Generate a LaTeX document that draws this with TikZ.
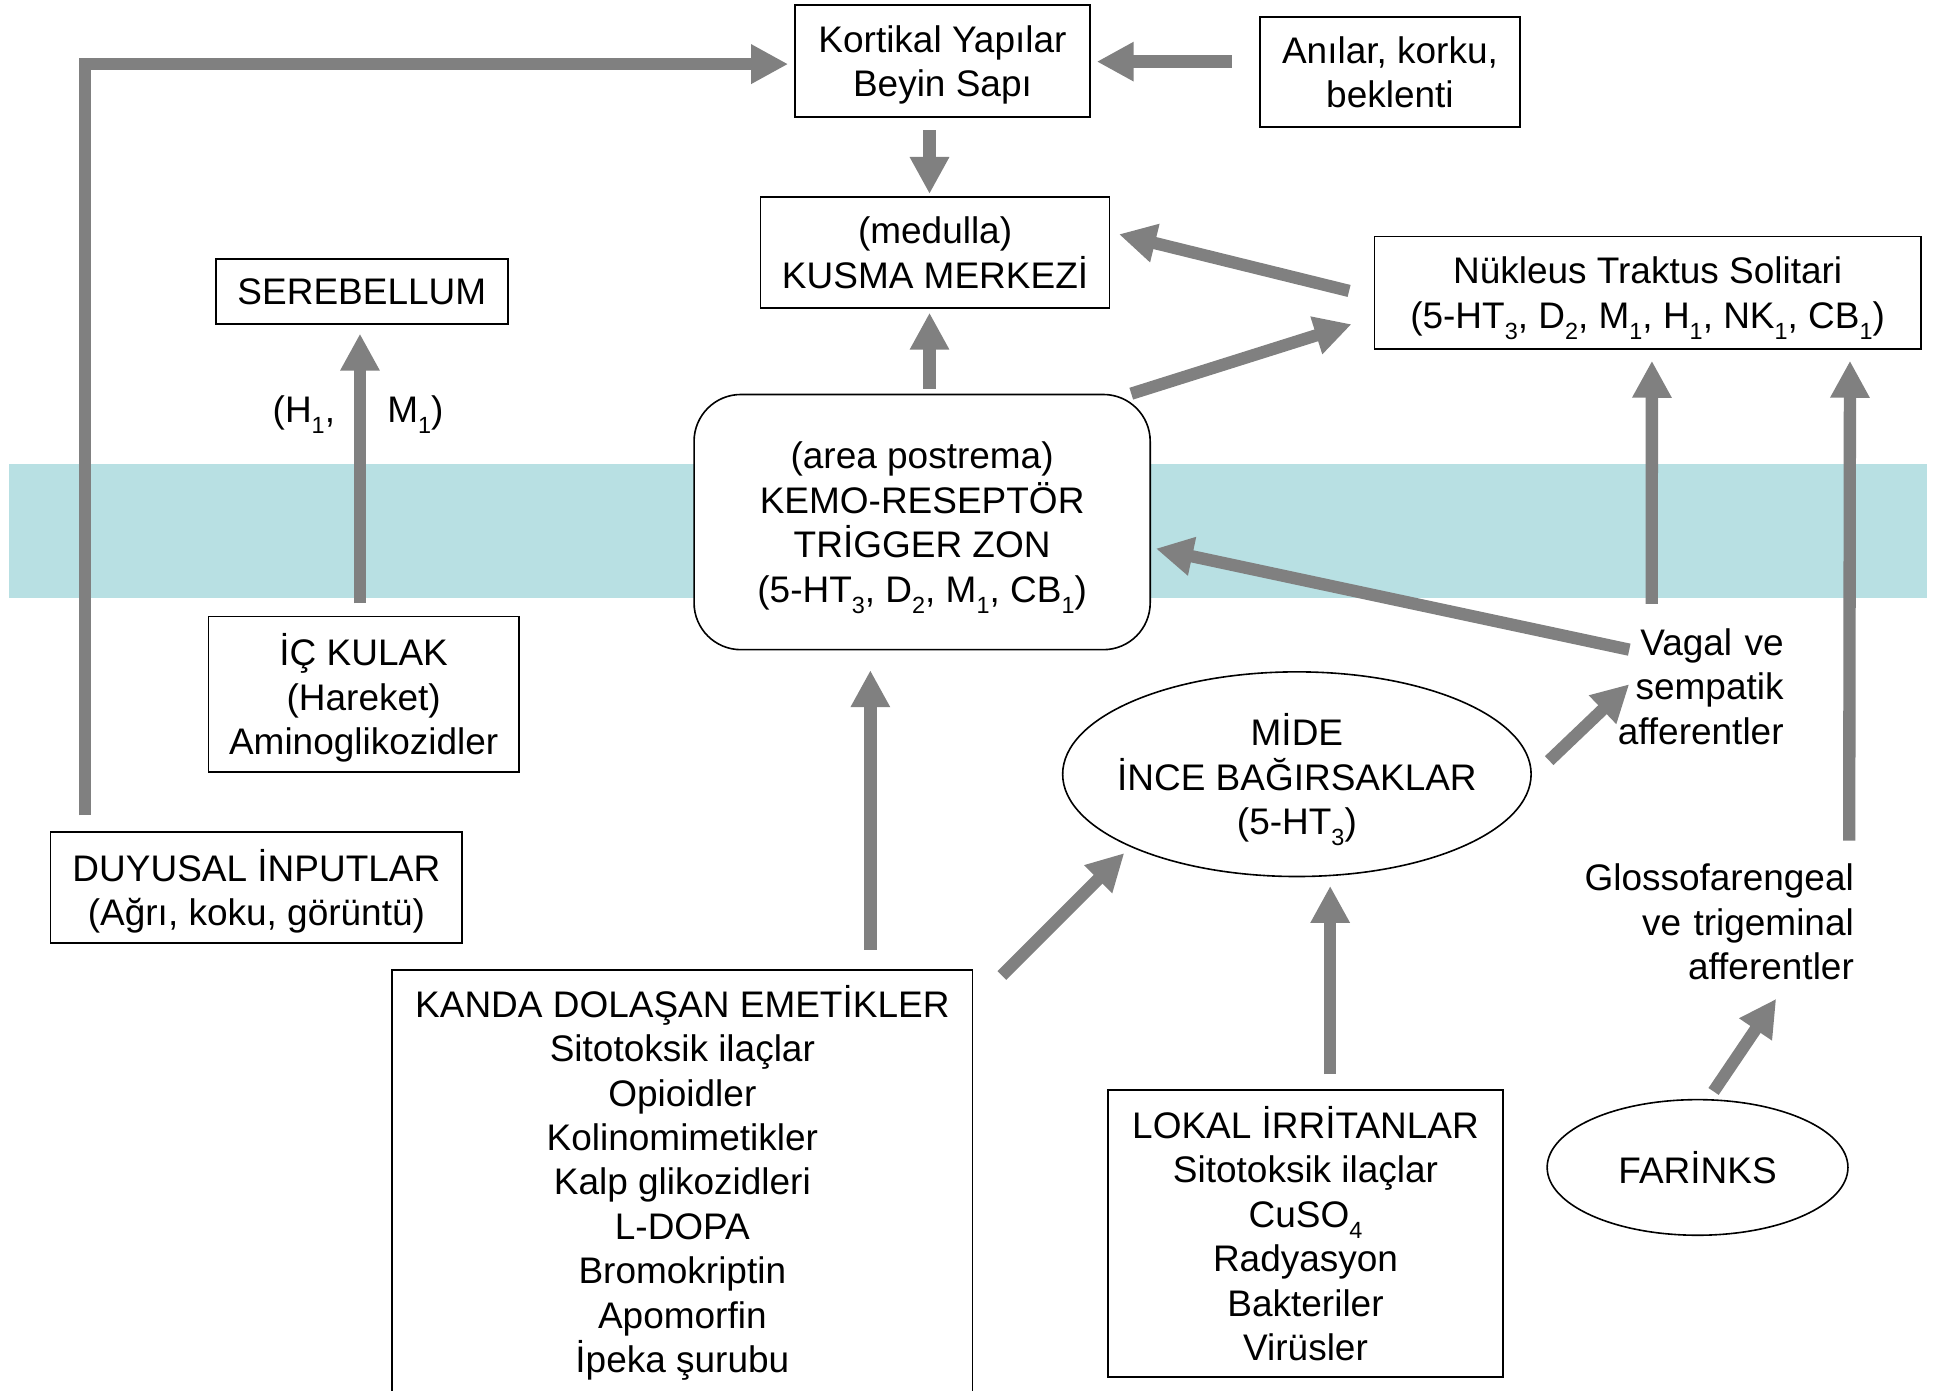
\documentclass[tikz,border=0pt]{standalone}
\usepackage{fontspec}
\setmainfont{Liberation Sans}
\usetikzlibrary{arrows.meta,shapes.geometric,calc}
\newcommand{\sbs}[1]{\raisebox{-9pt}{\fontsize{19}{19}\selectfont #1}}
\definecolor{bandcol}{HTML}{B8E0E3}
\definecolor{arrgray}{HTML}{808080}
\begin{document}
\begin{tikzpicture}[x=1pt,y=-1pt,
  txt/.style={font=\fontsize{30}{36}\selectfont, inner sep=0pt, align=center},
  box/.style={txt, draw=black, line width=1.3pt, fill=white, rectangle, text depth=0pt},
  rbox/.style={box, rounded corners=38pt},
  oval/.style={txt, draw=black, line width=1.3pt, fill=white, ellipse, inner sep=-20pt, text depth=0pt},
  side/.style={font=\fontsize{30}{36}\selectfont, inner sep=0pt, align=right},
  arr/.style={draw=arrgray, line width=10pt, -{Triangle[width=30pt,length=30pt]}},
]
\useasboundingbox (0,0) rectangle (1568,1128.3);
% membrane band
\fill[bandcol] (7,376) rectangle (1563,485);

% nodes
\node[box, minimum width=239, minimum height=91] (kortikal) at (764.5,49.5) {Kortikal Yapılar\\Beyin Sapı};
\node[box, minimum width=211, minimum height=89] (anilar) at (1127.5,58.5) {Anılar, korku,\\beklenti};
\node[box, minimum width=283, minimum height=90] (medulla) at (758.5,205) {(medulla)\\KUSMA MERKEZİ};
\node[box, minimum width=443, minimum height=91] (nts) at (1336.5,237.5) {Nükleus Traktus Solitari\\(5-HT\sbs{3}, D\sbs{2}, M\sbs{1}, H\sbs{1}, NK\sbs{1}, CB\sbs{1})};
\node[box, minimum width=237, minimum height=53] (serebellum) at (293.5,236.5) {SEREBELLUM};
\node[rbox, minimum width=370, minimum height=207] (ktz) at (748,423.5) {(area postrema)\\KEMO-RESEPTÖR\\TRİGGER ZON\\(5-HT\sbs{3}, D\sbs{2}, M\sbs{1}, CB\sbs{1})};
\node[box, minimum width=252, minimum height=126] (ickulak) at (295,563) {İÇ KULAK\\(Hareket)\\Aminoglikozidler};
\node[box, minimum width=334, minimum height=90] (duyusal) at (208,720) {DUYUSAL İNPUTLAR\\(Ağrı, koku, görüntü)};
\node[box, text depth=, minimum width=471, minimum height=345] (kanda) at (553.5,959.5) {KANDA DOLAŞAN EMETİKLER\\Sitotoksik ilaçlar\\Opioidler\\Kolinomimetikler\\Kalp glikozidleri\\L-DOPA\\Bromokriptin\\Apomorfin\\İpeka şurubu};
\node[box, minimum width=320, minimum height=233] (lokal) at (1059,1000.5) {LOKAL İRRİTANLAR\\Sitotoksik ilaçlar\\CuSO\sbs{4}\\Radyasyon\\Bakteriler\\Virüsler};
\node[oval, minimum width=380, minimum height=166] (mide) at (1052,628) {MİDE\\İNCE BAĞIRSAKLAR\\(5-HT\sbs{3})};
\node[oval, minimum width=244, minimum height=110] (farinks) at (1377,947) {FARİNKS};
\node[side, text width=136, minimum height=108, anchor=east] (vagal) at (1447,557) {Vagal ve\\sempatik\\afferentler};
\node[side, text width=220, minimum height=108, anchor=east] (glosso) at (1504,748) {Glossofarengeal\\ve trigeminal\\afferentler};
\node[txt] (hlab) at (246.5,336) {(H\sbs{1},};
\node[txt] (mlab) at (337,336) {M\sbs{1})};

% connectors
\draw[arr] ([shift={(-22,-8.5)}]anilar.west) -- ([shift={(5,0.5)}]kortikal.east);
\draw[arr] ([shift={(-10.5,10)}]kortikal.south) -- ([shift={(-4.5,-2)}]medulla.north);
\draw[arr] ([shift={(6,-4)}]ktz.north) -- ([shift={(-4.5,3)}]medulla.south);
\draw[arr] ([shift={(-16,0)}]ktz.north east) -- ([shift={(-18,25.5)}]nts.west);
\draw[arr] ([shift={(-20,-1.5)}]nts.west) -- ([shift={(7,-15)}]medulla.east);
\draw[arr] ([shift={(-39,-13)}]vagal.north) -- ([shift={(3.5,9)}]nts.south);
\draw[arr] ([shift={(11,-30)}]vagal.west) -- ([shift={(4,21.5)}]ktz.east);
\draw[arr] ([shift={(14,-11)}]mide.east) -- ([shift={(11,-2)}]vagal.west);
\draw[arr] ([shift={(-3,-10)}]ickulak.north) -- ([shift={(-1.5,7)}]serebellum.south);
\draw[arr] ([shift={(-139,-13)}]duyusal.north) |- ([shift={(-5,2.5)}]kortikal.west);
\draw[arr] ([shift={(152.5,-16)}]kanda.north) -- ([shift={(-42,16)}]ktz.south);
\draw[arr] ([shift={(23,5)}]kanda.north east) -- ([shift={(-140,64)}]mide.center);
\draw[arr] ([shift={(20,-12)}]lokal.north) -- ([shift={(27,7)}]mide.south);
\draw[arr] ([shift={(13,-6)}]farinks.north) -- ([shift={(47,8)}]glosso.south);
\draw[arr] ([shift={(-4,-12)}]glosso.north east) -- ([shift={(-58,9)}]nts.south east);
\end{tikzpicture}
\end{document}
